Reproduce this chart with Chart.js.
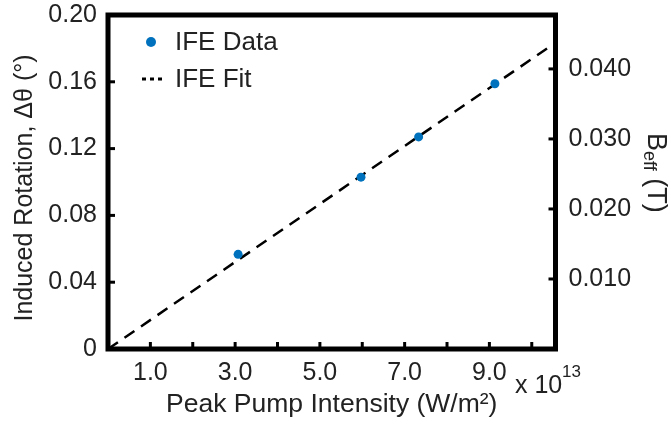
<!DOCTYPE html>
<html>
<head>
<meta charset="utf-8">
<script src="https://cdn.jsdelivr.net/npm/chart.js@4.4.1/dist/chart.umd.min.js"></script>
<style>
  html, body { margin: 0; padding: 0; background: #fff; }
  #wrap { width: 671px; height: 424px; }
</style>
</head>
<body>
<div id="wrap"><canvas id="chart" width="671" height="424"></canvas></div>
<script>
// IFE measurements (intensity in units of 1e13 W/m^2)
const ifeIntensity = [3.07, 5.97, 7.33, 9.13];
const ifeRotation = [0.0567, 0.1029, 0.1270, 0.1588];

// linear fit through the origin
const fitIntensity = [0, 10.56];
const fitRotation = [0, 0.1834];

const xTickValues = [1, 2, 3, 4, 5, 6, 7, 8, 9, 10];
const xTickLabels = ['1.0', '', '3.0', '', '5.0', '', '7.0', '', '9.0', ''];
const yTickValues = [0, 0.04, 0.08, 0.12, 0.16, 0.20];
const yTickLabels = ['0', '0.04', '0.08', '0.12', '0.16', '0.20'];
const bTickValues = [0.01, 0.02, 0.03, 0.04];
const bTickLabels = ['0.010', '0.020', '0.030', '0.040'];

const FONT = '"Liberation Sans", Arial, sans-serif';
const TEXT = '#222';
const BLUE = '#0072BD';

function fixedTicks(values) {
    return scale => { scale.ticks = values.map(v => ({ value: v })); };
}

function fitBox(size) {
    return s => {
        if (s.isHorizontal()) s.height = size; else s.width = size;
        s.paddingTop = 0; s.paddingBottom = 0; s.paddingLeft = 0; s.paddingRight = 0;
    };
}

// box, inward tick marks, titles and legend
const decor = {
    id: 'decor',
    afterDatasetsDraw(chart) {
        const ctx = chart.ctx;
        const a = chart.chartArea;
        const sx = chart.scales.x, sy = chart.scales.y, sb = chart.scales.b;

        ctx.save();
        ctx.strokeStyle = '#000';
        ctx.lineWidth = 3;
        ctx.setLineDash([]);
        xTickValues.forEach(v => {
            const px = sx.getPixelForValue(v);
            ctx.beginPath(); ctx.moveTo(px, a.bottom); ctx.lineTo(px, a.bottom - 7); ctx.stroke();
        });
        yTickValues.slice(1, -1).forEach(v => {
            const py = sy.getPixelForValue(v);
            ctx.beginPath(); ctx.moveTo(a.left, py); ctx.lineTo(a.left + 7, py); ctx.stroke();
        });
        bTickValues.forEach(v => {
            const py = sb.getPixelForValue(v);
            ctx.beginPath(); ctx.moveTo(a.right, py); ctx.lineTo(a.right - 7, py); ctx.stroke();
        });

        ctx.lineWidth = 5;
        ctx.strokeRect(a.left, a.top, a.right - a.left, a.bottom - a.top);

        ctx.fillStyle = TEXT;
        // x title and exponent
        ctx.font = '26.5px ' + FONT;
        ctx.textAlign = 'center';
        ctx.textBaseline = 'middle';
        ctx.fillText('Peak Pump Intensity (W/m²)', (a.left + a.right) / 2, 405);
        ctx.font = '25px ' + FONT;
        ctx.textAlign = 'left';
        ctx.textBaseline = 'alphabetic';
        ctx.fillText('x 10', 515, 393);
        ctx.font = '17px ' + FONT;
        ctx.fillText('13', 562, 377);

        // left title
        ctx.save();
        ctx.translate(25, 188);
        ctx.rotate(-Math.PI / 2);
        ctx.font = '25px ' + FONT;
        ctx.textAlign = 'center';
        ctx.textBaseline = 'middle';
        ctx.fillText('Induced Rotation, \u0394\u03b8 (\u00b0)', 0, 0);
        ctx.restore();

        // right title with subscript
        ctx.save();
        ctx.translate(655, 133);
        ctx.rotate(Math.PI / 2);
        ctx.textAlign = 'left';
        ctx.textBaseline = 'middle';
        ctx.font = '27px ' + FONT;
        ctx.fillText('B', 0, 0);
        let w = ctx.measureText('B').width;
        ctx.font = '18px ' + FONT;
        ctx.fillText('eff', w, 6);
        w += ctx.measureText('eff').width;
        ctx.font = '27px ' + FONT;
        ctx.fillText(' (T)', w, 0);
        ctx.restore();

        // legend
        const ds = chart.data.datasets;
        ctx.font = '26px ' + FONT;
        ctx.textAlign = 'left';
        ctx.textBaseline = 'middle';
        ctx.fillStyle = BLUE;
        ctx.beginPath(); ctx.arc(151, 42, 5, 0, Math.PI * 2); ctx.fill();
        ctx.fillStyle = TEXT;
        ctx.fillText(ds[0].label, 175, 43);
        ctx.strokeStyle = '#000';
        ctx.lineWidth = 3;
        ctx.setLineDash([4, 4]);
        ctx.beginPath(); ctx.moveTo(142, 79); ctx.lineTo(164, 79); ctx.stroke();
        ctx.setLineDash([]);
        ctx.fillText(ds[1].label, 175, 80);
        ctx.restore();
    }
};

const tickFont = { family: FONT, size: 25 };

new Chart(document.getElementById('chart'), {
    type: 'scatter',
    data: {
        datasets: [
            {
                label: 'IFE Data',
                data: ifeIntensity.map((x, i) => ({ x: x, y: ifeRotation[i] })),
                backgroundColor: BLUE,
                borderColor: BLUE,
                pointRadius: 4.5,
                pointBorderWidth: 0,
                yAxisID: 'y'
            },
            {
                label: 'IFE Fit',
                type: 'line',
                data: fitIntensity.map((x, i) => ({ x: x, y: fitRotation[i] })),
                borderColor: '#000',
                borderWidth: 2.5,
                borderDash: [12, 8],
                pointRadius: 0,
                fill: false,
                yAxisID: 'y'
            }
        ]
    },
    options: {
        responsive: false,
        animation: false,
        devicePixelRatio: 1,
        layout: { autoPadding: false, padding: { left: 0, right: 0, top: 15, bottom: 0 } },
        plugins: { legend: { display: false }, tooltip: { enabled: false } },
        scales: {
            x: {
                type: 'linear', position: 'bottom', min: 0, max: 10.56,
                afterBuildTicks: fixedTicks(xTickValues),
                afterFit: fitBox(75),
                grid: { display: false, drawTicks: false },
                border: { display: false },
                ticks: {
                    autoSkip: false, maxRotation: 0, padding: 9, color: TEXT, font: tickFont,
                    callback: (v, i) => xTickLabels[i]
                }
            },
            y: {
                type: 'linear', position: 'left', min: 0, max: 0.2,
                afterBuildTicks: fixedTicks(yTickValues),
                afterFit: fitBox(108),
                grid: { display: false, drawTicks: false },
                border: { display: false },
                ticks: {
                    autoSkip: false, padding: 11, color: TEXT, font: tickFont,
                    callback: (v, i) => yTickLabels[i]
                }
            },
            b: {
                type: 'linear', position: 'right', min: 0, max: 0.0477,
                afterBuildTicks: fixedTicks(bTickValues),
                afterFit: fitBox(115.5),
                grid: { display: false, drawTicks: false },
                border: { display: false },
                ticks: {
                    autoSkip: false, padding: 13, color: TEXT, font: tickFont,
                    callback: (v, i) => bTickLabels[i]
                }
            }
        }
    },
    plugins: [decor]
});
</script>
</body>
</html>
